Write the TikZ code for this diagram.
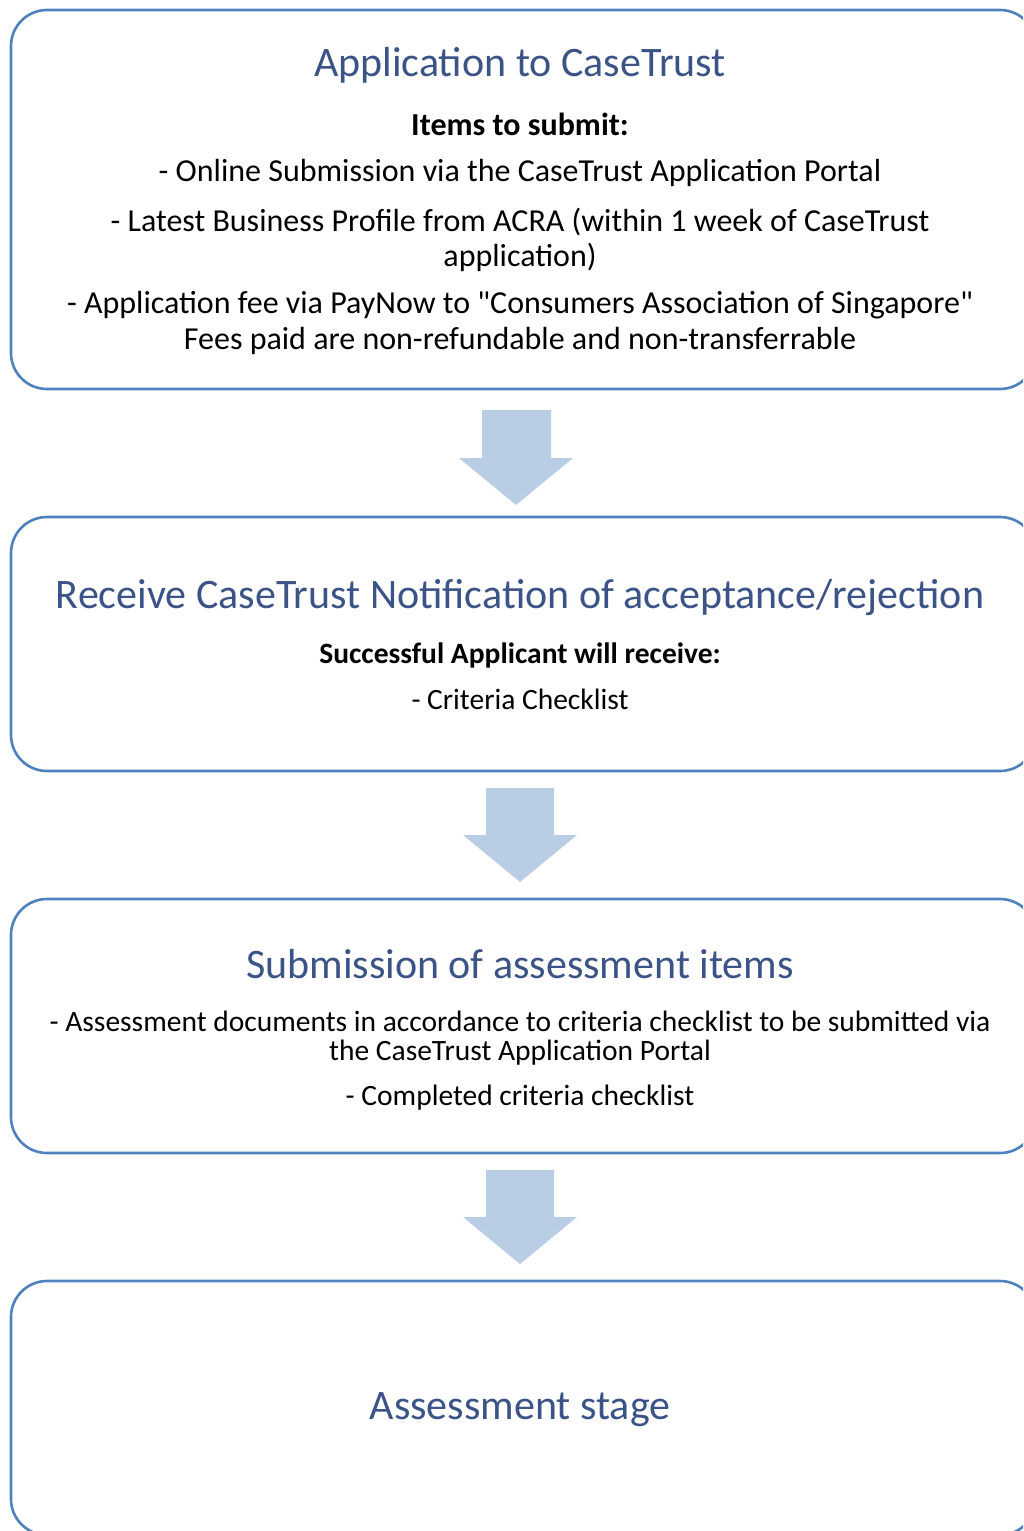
\documentclass[tikz,border=0pt]{standalone}
\usepackage{fontspec}
\setmainfont{Carlito}[Ligatures=TeXOff]
\definecolor{boxline}{RGB}{79,129,189}
\definecolor{arrowfill}{RGB}{185,205,229}
\definecolor{titleblue}{RGB}{59,83,135}
\tikzset{
  stagebox/.style={draw=boxline, line width=2.6pt, rounded corners=36pt, fill=white},
  ttl/.style={font=\fontsize{42}{48}\selectfont, text=titleblue, anchor=center, inner sep=0pt},
  body/.style={font=\fontsize{32}{38}\selectfont, anchor=center, inner sep=0pt},
  bodyb/.style={font=\fontsize{32}{38}\selectfont\bfseries, anchor=center, inner sep=0pt},
  smallbody/.style={font=\fontsize{29.5}{35}\selectfont, anchor=center, inner sep=0pt},
  smallbodyb/.style={font=\fontsize{29.5}{35}\selectfont\bfseries, anchor=center, inner sep=0pt},
  blockarrow/.style={fill=arrowfill, draw=none}
}
\begin{document}
\begin{tikzpicture}[x=1pt,y=-1pt]
\useasboundingbox (0,0) rectangle (1023,1531);
\clip (0,0) rectangle (1023,1531);
% boxes
\draw[stagebox] (11,10) rectangle (1036,389);
\draw[stagebox] (11,517) rectangle (1036,771);
\draw[stagebox] (11,899) rectangle (1036,1153);
\draw[stagebox] (11,1281) rectangle (1036,1535);
% arrows
\fill[blockarrow] (482,410) -- (551,410) -- (551,458) -- (573,458) -- (516,505) -- (459,458) -- (482,458) -- cycle;
\fill[blockarrow] (486,788) -- (554,788) -- (554,835) -- (577,835) -- (520,882) -- (463,835) -- (486,835) -- cycle;
\fill[blockarrow] (486,1170) -- (554,1170) -- (554,1217) -- (577,1217) -- (520,1264) -- (463,1217) -- (486,1217) -- cycle;
% box 1 text
\node[ttl] (t1) at (520,65) {Application to CaseTrust};
\node[bodyb] (t1a) at (520,124) {Items to submit:};
\node[body] (t1b) at (520,173) {- Online Submission via the CaseTrust Application Portal};
\node[body] (t1c) at (520,222) {- Latest Business Profile from ACRA (within 1 week of CaseTrust};
\node[body] (t1d) at (520,257) {application)};
\node[body] (t1e) at (520,305) {- Application fee via PayNow to "Consumers Association of Singapore"};
\node[body] (t1f) at (520,341) {Fees paid are non-refundable and non-transferrable};
% box 2 text
\node[ttl] (t2) at (520,598) {Receive CaseTrust Notification of acceptance/rejection};
\node[smallbodyb] (t2a) at (520,655) {Successful Applicant will receive:};
\node[smallbody] (t2b) at (520,699) {- Criteria Checklist};
% box 3 text
\node[ttl] (t3) at (520,964) {Submission of assessment items};
\node[smallbody] (t3a) at (520,1021) {- Assessment documents in accordance to criteria checklist to be submitted via};
\node[smallbody] (t3b) at (520,1053) {the CaseTrust Application Portal};
\node[smallbody] (t3c) at (520,1098) {- Completed criteria checklist};
% box 4 text
\node[ttl] (t4) at (520,1410) {Assessment stage};
\end{tikzpicture}
\end{document}
